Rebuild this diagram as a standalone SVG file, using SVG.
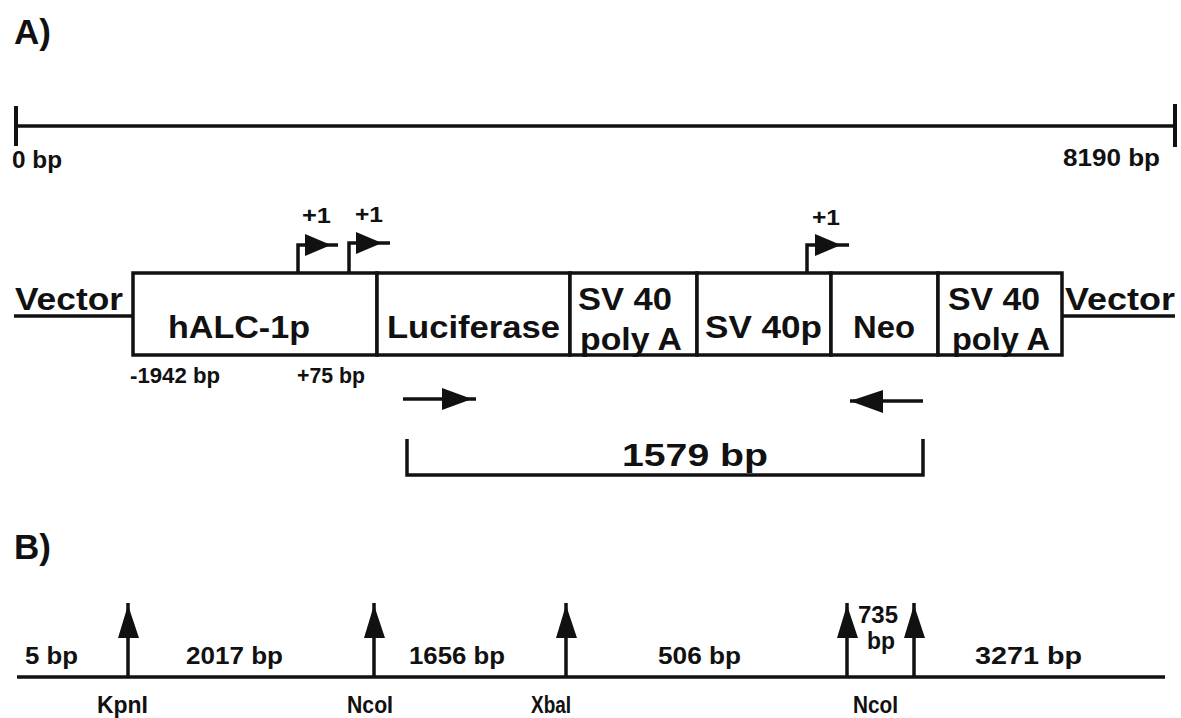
<svg xmlns="http://www.w3.org/2000/svg" width="1181" height="718" viewBox="0 0 1181 718">
<style>
text{font-family:"Liberation Sans",Arial,sans-serif;font-weight:bold;fill:#111}
.big{font-size:35px}
.lab{font-size:32px}
.mid{font-size:31px}
.sm{font-size:24px}
.rs{font-size:23px}
.xs{font-size:22px}
.ln{stroke:#111;stroke-width:3.5;fill:none}
.box{stroke:#111;stroke-width:3.5;fill:#fff}
.tri{fill:#111;stroke:none}
</style>
<rect width="1181" height="718" fill="#fff"/>
<text class="big" x="14" y="44">A)</text>
<text class="big" x="14" y="559">B)</text>

<g id="scale">
<path class="ln" d="M16 126 H1175"/>
<path class="ln" d="M16 106 V146 M1175 104 V147" style="stroke-width:4"/>
<text class="rs" x="12" y="168" textLength="50" lengthAdjust="spacingAndGlyphs">0 bp</text>
<text class="rs" x="1063" y="166" textLength="97" lengthAdjust="spacingAndGlyphs">8190 bp</text>
</g>

<g id="vector-left">
<path class="ln" d="M14 316 H133"/>
<text class="lab" x="15" y="310" textLength="108" lengthAdjust="spacingAndGlyphs">Vector</text>
</g>
<g id="vector-right">
<path class="ln" d="M1062 316 H1175"/>
<text class="lab" x="1065" y="310" textLength="110" lengthAdjust="spacingAndGlyphs">Vector</text>
</g>

<g id="hALC-1p">
<rect class="box" x="133" y="273" width="244" height="82"/>
<text class="lab" x="168" y="338" textLength="142" lengthAdjust="spacingAndGlyphs">hALC-1p</text>
<text class="xs" x="130" y="383" textLength="90" lengthAdjust="spacingAndGlyphs">-1942 bp</text>
<text class="xs" x="297" y="383" textLength="68" lengthAdjust="spacingAndGlyphs">+75 bp</text>
</g>
<g id="luciferase">
<rect class="box" x="377" y="273" width="193" height="82"/>
<text class="lab" x="387" y="338" textLength="173" lengthAdjust="spacingAndGlyphs">Luciferase</text>
</g>
<g id="sv40-polyA-1">
<rect class="box" x="570" y="273" width="127" height="82"/>
<text class="lab" x="578" y="310" textLength="94" lengthAdjust="spacingAndGlyphs">SV 40</text>
<text class="lab" x="580" y="350" textLength="102" lengthAdjust="spacingAndGlyphs">poly A</text>
</g>
<g id="sv40p">
<rect class="box" x="697" y="273" width="134" height="82"/>
<text class="lab" x="705" y="338" textLength="117" lengthAdjust="spacingAndGlyphs">SV 40p</text>
</g>
<g id="neo">
<rect class="box" x="831" y="273" width="107" height="82"/>
<text class="lab" x="853" y="338" textLength="62" lengthAdjust="spacingAndGlyphs">Neo</text>
</g>
<g id="sv40-polyA-2">
<rect class="box" x="938" y="273" width="124" height="82"/>
<text class="lab" x="948" y="310" textLength="92" lengthAdjust="spacingAndGlyphs">SV 40</text>
<text class="lab" x="952" y="350" textLength="98" lengthAdjust="spacingAndGlyphs">poly A</text>
</g>

<g id="tss">
<path class="ln" d="M298 273 V245 H338"/>
<polygon class="tri" points="305,234 331,245 305,256"/>
<text class="xs" x="302" y="223" textLength="29" lengthAdjust="spacingAndGlyphs">+1</text>
<path class="ln" d="M349 273 V243 H390"/>
<polygon class="tri" points="356,232 382,243 356,254"/>
<text class="xs" x="355" y="222" textLength="28" lengthAdjust="spacingAndGlyphs">+1</text>
<path class="ln" d="M807 273 V245 H849"/>
<polygon class="tri" points="815,234 841,245 815,256"/>
<text class="xs" x="812" y="225" textLength="28" lengthAdjust="spacingAndGlyphs">+1</text>
</g>

<g id="primers">
<path class="ln" d="M403 399 H476"/>
<polygon class="tri" points="442,388 472,399 442,410"/>
<path class="ln" d="M850 401 H923"/>
<polygon class="tri" points="850,401 883,390 883,413"/>
<path class="ln" d="M407 439 V475 H923 V439"/>
<text class="mid" x="622" y="466" textLength="146" lengthAdjust="spacingAndGlyphs">1579 bp</text>
</g>

<g id="restriction-map">
<path class="ln" d="M17 677 H1165"/>
<g id="sites">
<path class="ln" d="M128 677 V603 M374 677 V603 M566 677 V603 M847 677 V603 M914 677 V603"/>
<polygon class="tri" points="118,638 128,605 139,638"/>
<polygon class="tri" points="364,638 374,605 385,638"/>
<polygon class="tri" points="556,638 566,605 577,638"/>
<polygon class="tri" points="837,638 847,605 858,638"/>
<polygon class="tri" points="904,638 914,605 925,638"/>
</g>
<text class="sm" x="25" y="664" textLength="53" lengthAdjust="spacingAndGlyphs">5 bp</text>
<text class="sm" x="186" y="664" textLength="97" lengthAdjust="spacingAndGlyphs">2017 bp</text>
<text class="sm" x="409" y="664" textLength="96" lengthAdjust="spacingAndGlyphs">1656 bp</text>
<text class="sm" x="658" y="664" textLength="83" lengthAdjust="spacingAndGlyphs">506 bp</text>
<text class="sm" x="975" y="664" textLength="107" lengthAdjust="spacingAndGlyphs">3271 bp</text>
<text class="sm" x="858" y="623" textLength="40" lengthAdjust="spacingAndGlyphs">735</text>
<text class="sm" x="867" y="649" textLength="28" lengthAdjust="spacingAndGlyphs">bp</text>
<text class="rs" x="97" y="713" textLength="51" lengthAdjust="spacingAndGlyphs">KpnI</text>
<text class="rs" x="347" y="713" textLength="46" lengthAdjust="spacingAndGlyphs">NcoI</text>
<text class="rs" x="531" y="713" textLength="40" lengthAdjust="spacingAndGlyphs">XbaI</text>
<text class="rs" x="853" y="713" textLength="45" lengthAdjust="spacingAndGlyphs">NcoI</text>
</g>
</svg>
